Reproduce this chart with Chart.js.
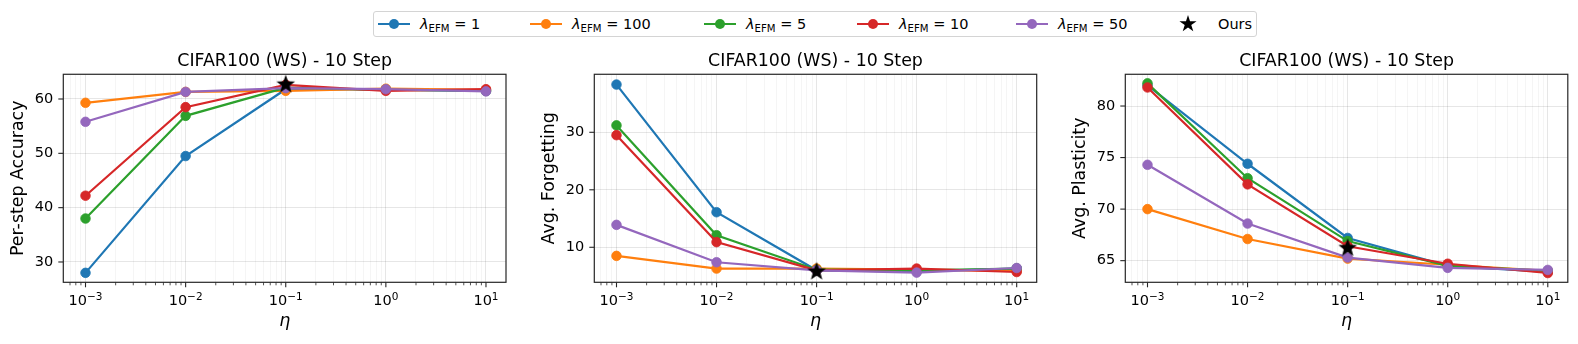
<!DOCTYPE html>
<html>
<head>
<meta charset="utf-8">
<script src="https://cdn.jsdelivr.net/npm/chart.js@4.4.0/dist/chart.umd.min.js"></script>
<style>
html,body{margin:0;padding:0;background:#fff;}
body{width:1578px;height:344px;position:relative;overflow:hidden;font-family:"DejaVu Sans",sans-serif;}
canvas{position:absolute;top:0;}
#legend{position:absolute;left:373px;top:11px;width:882px;height:24px;border:1px solid #d4d4d4;border-radius:3px;background:#fff;}
.item{position:absolute;top:0;height:24px;display:flex;align-items:center;font-size:14.5px;color:#000;white-space:nowrap;}
.handle{position:relative;width:32px;height:24px;margin-right:10px;}
.handle .ln{position:absolute;left:0;right:0;top:11px;height:2px;}
.handle .dot{position:absolute;left:11px;top:7px;width:10px;height:10px;border-radius:50%;}
.handle .star{position:absolute;left:7px;top:3px;width:18px;height:18px;background:#000;
  clip-path:polygon(50% 0%,61.2% 34.5%,97.6% 34.5%,68.2% 55.9%,79.4% 90.5%,50% 69.1%,20.6% 90.5%,31.8% 55.9%,2.4% 34.5%,38.8% 34.5%);}
.item i{font-style:italic;}
.item sub{font-size:70%;vertical-align:-0.3em;line-height:0;}
</style>
</head>
<body>
<div id="legend"></div>
<canvas id="c1" width="531" height="344" style="left:0px"></canvas>
<canvas id="c2" width="531" height="344" style="left:531px"></canvas>
<canvas id="c3" width="516" height="344" style="left:1062px"></canvas>
<script>
// x values (eta) and tick labels (10^exp)
const eta = [0.001, 0.01, 0.1, 1, 10];
const etaTickBase = '10';
const etaTickExp = ['\u22123', '\u22122', '\u22121', '0', '1'];

// series names / colours
const lambdas = ['1', '100', '5', '10', '50'];
const colors = ['#1f77b4', '#ff7f0e', '#2ca02c', '#d62728', '#9467bd'];

// Per-step Accuracy
const accL1   = [28.0, 49.5, 61.8, 61.7, 61.5];
const accL100 = [59.3, 61.3, 61.5, 61.9, 61.7];
const accL5   = [38.0, 56.9, 62.1, 61.7, 61.5];
const accL10  = [42.2, 58.5, 62.6, 61.5, 61.8];
const accL50  = [55.8, 61.3, 62.0, 61.8, 61.4];
const accOurs = 62.8;
const accTicks = [30, 40, 50, 60];

// Avg. Forgetting
const fgtL1   = [38.3, 16.1, 6.0, 5.8, 6.3];
const fgtL100 = [8.5, 6.3, 6.3, 6.1, 5.9];
const fgtL5   = [31.2, 12.1, 6.1, 6.0, 6.3];
const fgtL10  = [29.5, 10.9, 6.0, 6.3, 5.7];
const fgtL50  = [13.9, 7.4, 6.0, 5.6, 6.4];
const fgtOurs = 5.9;
const fgtTicks = [10, 20, 30];

// Avg. Plasticity
const plaL1   = [82.0, 74.4, 67.2, 64.5, 63.9];
const plaL100 = [70.0, 67.1, 65.2, 64.6, 64.0];
const plaL5   = [82.2, 73.0, 66.9, 64.5, 64.0];
const plaL10  = [81.8, 72.4, 66.4, 64.7, 63.8];
const plaL50  = [74.3, 68.6, 65.3, 64.3, 64.1];
const plaOurs = 66.3;
const plaTicks = [65, 70, 75, 80];

const panelTitle = 'CIFAR100 (WS) - 10 Step';

Chart.defaults.font.family = '"DejaVu Sans", sans-serif';
Chart.defaults.color = '#000';

// minor ticks for the log axis
let etaAllTicks = [];
for (let k = -4; k <= 1; k++) {
  for (let m = 1; m <= 9; m++) {
    let v = m * Math.pow(10, k);
    if (Math.log10(v) >= -3.2 && Math.log10(v) <= 1.2) etaAllTicks.push(+v.toPrecision(3));
  }
}
function isMajor(v) { return eta.indexOf(v) >= 0; }

// star image used as point style
const starImg = document.createElement('canvas');
starImg.width = 22; starImg.height = 22;
(function(){
  const c = starImg.getContext('2d');
  c.beginPath();
  for (let i = 0; i < 10; i++) {
    let r = (i % 2 == 0) ? 9.8 : 4;
    let a = -Math.PI / 2 + i * Math.PI / 5;
    let x = 11 + r * Math.cos(a), y = 11.8 + r * Math.sin(a);
    if (i == 0) c.moveTo(x, y); else c.lineTo(x, y);
  }
  c.closePath();
  c.fillStyle = '#000';
  c.fill();
})();

// frame, tick marks and 10^n labels like matplotlib
const frameTicks = {
  id: 'frameTicks',
  afterDraw(chart) {
    const ctx = chart.ctx, a = chart.chartArea;
    const xs = chart.scales.x, ys = chart.scales.y;
    ctx.save();
    ctx.strokeStyle = '#262626';
    xs.ticks.forEach(t => {
      let px = xs.getPixelForValue(t.value);
      let major = isMajor(t.value);
      ctx.lineWidth = major ? 1.1 : 0.8;
      ctx.beginPath();
      ctx.moveTo(px, a.bottom);
      ctx.lineTo(px, a.bottom + (major ? 5 : 3));
      ctx.stroke();
    });
    ctx.lineWidth = 1.1;
    ys.ticks.forEach(t => {
      let py = ys.getPixelForValue(t.value);
      ctx.beginPath();
      ctx.moveTo(a.left, py);
      ctx.lineTo(a.left - 5, py);
      ctx.stroke();
    });
    ctx.lineWidth = 1.2;
    ctx.strokeRect(a.left, a.top, a.right - a.left, a.bottom - a.top);

    // x tick labels with superscript exponent
    ctx.fillStyle = '#000';
    ctx.textBaseline = 'alphabetic';
    ctx.textAlign = 'left';
    eta.forEach((v, i) => {
      let px = xs.getPixelForValue(v);
      ctx.font = '14.5px "DejaVu Sans"';
      let w1 = ctx.measureText(etaTickBase).width;
      ctx.font = '10.5px "DejaVu Sans"';
      let w2 = ctx.measureText(etaTickExp[i]).width;
      let x0 = px - (w1 + w2) / 2;
      let base = a.bottom + 22.7;
      ctx.font = '14.5px "DejaVu Sans"';
      ctx.fillText(etaTickBase, x0, base);
      ctx.font = '10.5px "DejaVu Sans"';
      ctx.fillText(etaTickExp[i], x0 + w1, base - 5);
    });
    ctx.restore();
  }
};

function makePanel(id, yLabel, series, ours, yMin, yMax, yTicks, rightPad) {
  let datasets = [];
  for (let i = 0; i < series.length; i++) {
    datasets.push({
      label: 'lambda=' + lambdas[i],
      data: eta.map((x, j) => ({x: x, y: series[i][j]})),
      borderColor: colors[i],
      backgroundColor: colors[i],
      borderWidth: 2.2,
      pointRadius: 4.8,
      pointBorderWidth: 0.8,
      pointHoverRadius: 4.8,
      order: 10 - i
    });
  }
  datasets.push({
    label: 'Ours',
    data: [{x: 0.1, y: ours}],
    showLine: false,
    pointStyle: starImg,
    pointRadius: 9,
    order: 0
  });

  new Chart(document.getElementById(id), {
    type: 'line',
    data: { datasets: datasets },
    plugins: [frameTicks],
    options: {
      responsive: false,
      animation: false,
      devicePixelRatio: 1,
      layout: { padding: { left: 0, right: rightPad, top: 0, bottom: 0 } },
      plugins: {
        legend: { display: false },
        tooltip: { enabled: false },
        title: {
          display: true,
          fullSize: false,
          text: panelTitle,
          color: '#000',
          font: { size: 17.4, weight: 'normal' },
          padding: { top: 50.8, bottom: 2.6 }
        }
      },
      scales: {
        x: {
          type: 'logarithmic',
          min: Math.pow(10, -3.2),
          max: Math.pow(10, 1.2),
          afterBuildTicks: s => { s.ticks = etaAllTicks.map(v => ({value: v})); },
          afterFit: s => { s.height = 61.7; },
          ticks: { display: false, autoSkip: false, maxRotation: 0, minRotation: 0 },
          grid: {
            drawTicks: false,
            color: c => (c.tick && isMajor(c.tick.value)) ? 'rgba(0,0,0,0.11)' : 'rgba(0,0,0,0.06)',
            lineWidth: c => (c.tick && isMajor(c.tick.value)) ? 0.9 : 0.7
          },
          border: { display: false },
          title: {
            display: true, text: '\u03B7', color: '#000',
            font: { size: 17.4, style: 'italic' },
            padding: { top: 0, bottom: 11.8 }
          }
        },
        y: {
          type: 'linear',
          min: yMin,
          max: yMax,
          afterBuildTicks: s => { s.ticks = yTicks.map(v => ({value: v})); },
          afterFit: s => { s.width = 63.3; },
          ticks: { padding: 10, font: { size: 14.5 } },
          grid: { drawTicks: false, color: 'rgba(0,0,0,0.11)', lineWidth: 0.9 },
          border: { display: false },
          title: {
            display: true, text: yLabel, color: '#000',
            font: { size: 17.4 },
            padding: { top: 8, bottom: 0 }
          }
        }
      }
    }
  });
}

makePanel('c1', 'Per-step Accuracy', [accL1, accL100, accL5, accL10, accL50], accOurs, 26.26, 64.55, accTicks, 25);
makePanel('c2', 'Avg. Forgetting', [fgtL1, fgtL100, fgtL5, fgtL10, fgtL50], fgtOurs, 3.91, 40.09, fgtTicks, 25.3);
makePanel('c3', 'Avg. Plasticity', [plaL1, plaL100, plaL5, plaL10, plaL50], plaOurs, 62.9, 83.08, plaTicks, 10.2);

// shared legend on top
const legendLeft = [4, 156, 330, 483, 642];
let lg = document.getElementById('legend');
for (let i = 0; i < lambdas.length; i++) {
  let d = document.createElement('div');
  d.className = 'item';
  d.style.left = legendLeft[i] + 'px';
  d.innerHTML = '<div class="handle"><div class="ln" style="background:' + colors[i] + '"></div>' +
    '<div class="dot" style="background:' + colors[i] + '"></div></div>' +
    '<span><i>\u03BB</i><sub>EFM</sub> = ' + lambdas[i] + '</span>';
  lg.appendChild(d);
}
let o = document.createElement('div');
o.className = 'item';
o.style.left = '798px';
o.innerHTML = '<div class="handle" style="margin-right:14px"><div class="star"></div></div><span>Ours</span>';
lg.appendChild(o);
</script>
</body>
</html>
